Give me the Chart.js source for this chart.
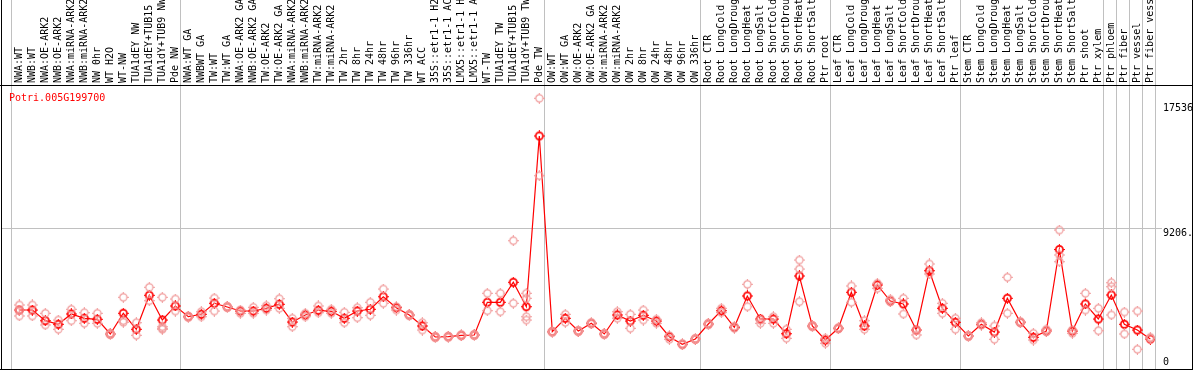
<!DOCTYPE html>
<html>
<head>
<meta charset="utf-8">
<script src="https://cdn.jsdelivr.net/npm/chart.js@4.4.1/dist/chart.umd.min.js"></script>
<style>
  html, body { margin: 0; padding: 0; background: #fff; }
  #wrap { width: 1194px; height: 370px; }
</style>
</head>
<body>
<div id="wrap"><canvas id="chart" width="1194" height="370"></canvas></div>
<script>
const geneId = "Potri.005G199700";

const categories = [
  "NWA:WT", "NWB:WT", "NWA:OE-ARK2", "NWB:OE-ARK2", "NWA:miRNA-ARK2", "NWB:miRNA-ARK2",
  "NW 0hr", "WT H2O", "WT-NW", "TUA1dEY NW", "TUA1dEY+TUB15", "TUA1dY+TUB9 NW", "Pde NW",
  "NWA:WT GA", "NWBWT GA", "TW:WT", "TW:WT GA", "NWA:OE-ARK2 GA", "NWB:OE-ARK2 GA",
  "TW:OE-ARK2", "TW:OE-ARK2 GA", "NWA:miRNA-ARK2", "NWB:miRNA-ARK2", "TW:miRNA-ARK2",
  "TW:miRNA-ARK2", "TW 2hr", "TW 8hr", "TW 24hr", "TW 48hr", "TW 96hr", "TW 336hr", "WT ACC",
  "35S::etr1-1 H2", "35S::etr1-1 AC", "LMX5::etr1-1 H", "LMX5::etr1-1 A", "WT-TW",
  "TUA1dEY TW", "TUA1dEY+TUB15", "TUA1dY+TUB9 TW", "Pde TW",
  "OW:WT", "OW:WT GA", "OW:OE-ARK2", "OW:OE-ARK2 GA", "OW:miRNA-ARK2", "OW:miRNA-ARK2",
  "OW 2hr", "OW 8hr", "OW 24hr", "OW 48hr", "OW 96hr", "OW 336hr",
  "Root CTR", "Root LongCold", "Root LongDroug", "Root LongHeat", "Root LongSalt",
  "Root ShortCold", "Root ShortDrou", "Root ShortHeat", "Root ShortSalt", "Ptr root",
  "Leaf CTR", "Leaf LongCold", "Leaf LongDroug", "Leaf LongHeat", "Leaf LongSalt",
  "Leaf ShortCold", "Leaf ShortDrou", "Leaf ShortHeat", "Leaf ShortSalt", "Ptr leaf",
  "Stem CTR", "Stem LongCold", "Stem LongDroug", "Stem LongHeat", "Stem LongSalt",
  "Stem ShortCold", "Stem ShortDrou", "Stem ShortHeat", "Stem ShortSalt", "Ptr shoot",
  "Ptr xylem", "Ptr phloem", "Ptr fiber", "Ptr vessel", "Ptr fiber vess"
];

const meanValues = [
  3822, 3822, 3117, 2880, 3559, 3275, 3209, 2241, 3605, 2550, 4791, 3163, 4086,
  3381, 3539, 4264, 4020, 3756, 3756, 3934, 4198, 3031, 3493, 3802, 3737, 3275, 3756,
  3868, 4699, 3974, 3493, 2768, 2043, 2063, 2155, 2175, 4330, 4330, 5648, 4040, 15289,
  2392, 3275, 2438, 2946, 2241, 3493, 3097, 3473, 3097, 2063, 1562, 1911,
  2900, 3776, 2682, 4745, 3229, 3229, 2260, 6063, 2768, 1845,
  2616, 4989, 2768, 5470, 4415, 4218, 2504, 6412, 3934, 3012,
  2109, 2880, 2372, 4593, 3012, 2023, 2438, 7809, 2438, 4218,
  3229, 4811, 2880, 2504, 1911
];

const replicateValues = [
  [4152, 3822, 3427], [4152, 3427], [3605, 2834], [3163, 2550], [3868, 3117], [3644, 2946],
  [3605, 2946], [2280, 2200], [4659, 3117, 3012], [2985, 2155], [5318, 4435],
  [4659, 2722, 2616, 2550], [4547, 3756],
  [3420, 3340], [3710, 3381], [4613, 3756], [4060, 3980], [3822, 3605], [4000, 3605],
  [4106, 3822], [4567, 3934], [3275, 2722], [3605, 3381], [4086, 3644], [3868, 3605],
  [3671, 2985], [3974, 3315], [4330, 3473], [5206, 4264], [4040, 3822], [3530, 3450],
  [2985, 2504], [2080, 2000], [2100, 2030], [2190, 2120], [2210, 2140], [4923, 3776],
  [4923, 3710], [8389, 4264], [4923, 4593, 3381, 3163], [17773, 12673],
  [2420, 2350], [3539, 3010], [2470, 2400], [2990, 2900], [2280, 2200], [3710, 3280],
  [3539, 2616], [3822, 3163], [3209, 2946], [2129, 1891], [1600, 1520], [1950, 1880],
  [2946, 2850], [3934, 3650], [2616, 2740], [5516, 4040], [3163, 2946], [3381, 2946],
  [2550, 1957], [7117, 6524, 4369], [2800, 2720], [1957, 1628],
  [2650, 2580], [5404, 4330], [3117, 2550], [5582, 5252], [4527, 4369], [4593, 3559],
  [2504, 2175], [6854, 6195], [4264, 3605], [3275, 2550],
  [2140, 2070], [2985, 2830], [2768, 1891], [5977, 3605], [3050, 2980], [2287, 1845],
  [2550, 2400], [9094, 7447, 7005], [2287, 2500], [4923, 3822],
  [3934, 2458], [5621, 5358, 3493], [3690, 2241], [3756, 1232], [2023, 1950]
];

// last sample index of each block (-1 = line before the first sample)
const groupEnds = [-1, 12, 40, 52, 62, 72, 83, 84, 85, 86, 87];

const yTickValues = [17536, 9206, 0];
const yTickLabels = ["17536", "9206.", "0"];
const gridValues = [9206];

const FONT = "10px 'DejaVu Sans Mono', monospace";

function makeMarker(color, lw) {
  const c = document.createElement("canvas");
  c.width = 11; c.height = 11;
  const g = c.getContext("2d");
  g.strokeStyle = color;
  g.fillStyle = color;
  g.lineWidth = lw;
  g.beginPath();
  g.arc(5.5, 5.5, 3.6, 0, Math.PI * 2);
  g.stroke();
  g.fillRect(5, 0, 1, 2);
  g.fillRect(5, 9, 1, 2);
  g.fillRect(0, 5, 2, 1);
  g.fillRect(9, 5, 2, 1);
  return c;
}

const meanMarker = makeMarker("#ff0000", 1.7);
const repMarker = makeMarker("#f09a9a", 1.2);

const meanPoints = meanValues.map((v, i) => ({ x: i, y: v }));
const repPoints = [];
replicateValues.forEach((arr, i) => arr.forEach(v => repPoints.push({ x: i, y: v })));

const framePlugin = {
  id: "frame",
  beforeDatasetsDraw(chart) {
    const ctx = chart.ctx;
    const xs = chart.scales.x, ys = chart.scales.y;
    ctx.save();
    ctx.fillStyle = "#c0c0c0";
    groupEnds.forEach(i => {
      const px = Math.round(xs.getPixelForValue(i + 5 / 13));
      ctx.fillRect(px, 0, 1, 369);
    });
    gridValues.forEach(v => {
      const py = Math.round(ys.getPixelForValue(v));
      ctx.fillRect(2, py, 1160, 1);
    });
    ctx.restore();
  },
  afterDraw(chart) {
    const ctx = chart.ctx;
    const xs = chart.scales.x, ys = chart.scales.y;
    ctx.save();
    // borders
    ctx.fillStyle = "#000";
    ctx.fillRect(0, 85, 1193, 1);
    ctx.fillRect(1, 0, 1, 370);
    ctx.fillRect(1192, 0, 1, 370);
    ctx.fillRect(0, 369, 1193, 1);

    // rotated sample labels
    ctx.font = FONT;
    ctx.fillStyle = "#000";
    ctx.textAlign = "left";
    ctx.textBaseline = "middle";
    categories.forEach((name, i) => {
      const px = xs.getPixelForValue(i);
      ctx.save();
      ctx.beginPath();
      ctx.rect(0, 0, 1194, 85);
      ctx.clip();
      ctx.translate(px + 0.5, 83);
      ctx.rotate(-Math.PI / 2);
      ctx.fillText(name, 0, 0);
      ctx.restore();
    });

    // gene id
    ctx.fillStyle = "#ff0000";
    ctx.textBaseline = "alphabetic";
    ctx.fillText(geneId, 9, 101);

    // right value labels
    ctx.fillStyle = "#000";
    const offsets = [9, 8, -3];
    yTickValues.forEach((v, k) => {
      const py = ys.getPixelForValue(v);
      ctx.save();
      ctx.beginPath();
      ctx.rect(0, 0, 1192, 370);
      ctx.clip();
      ctx.fillText(yTickLabels[k], 1163, py + offsets[k]);
      ctx.restore();
    });
    ctx.restore();
  }
};

new Chart(document.getElementById("chart").getContext("2d"), {
  type: "scatter",
  data: {
    datasets: [
      {
        label: "replicates",
        data: repPoints,
        showLine: false,
        pointStyle: repMarker,
        pointRadius: 4
      },
      {
        label: "mean",
        data: meanPoints,
        showLine: true,
        borderColor: "#ff0000",
        borderWidth: 1.2,
        tension: 0,
        pointStyle: meanMarker,
        pointRadius: 4
      }
    ]
  },
  options: {
    responsive: false,
    animation: false,
    layout: { autoPadding: false, padding: { left: 2, right: 39, top: 87, bottom: 2 } },
    plugins: { legend: { display: false }, tooltip: { enabled: false } },
    scales: {
      x: { type: "linear", display: false, min: -1.331, max: 87.36 },
      y: { type: "linear", display: false, min: 0, max: 18518 }
    }
  },
  plugins: [framePlugin]
});
</script>
</body>
</html>
